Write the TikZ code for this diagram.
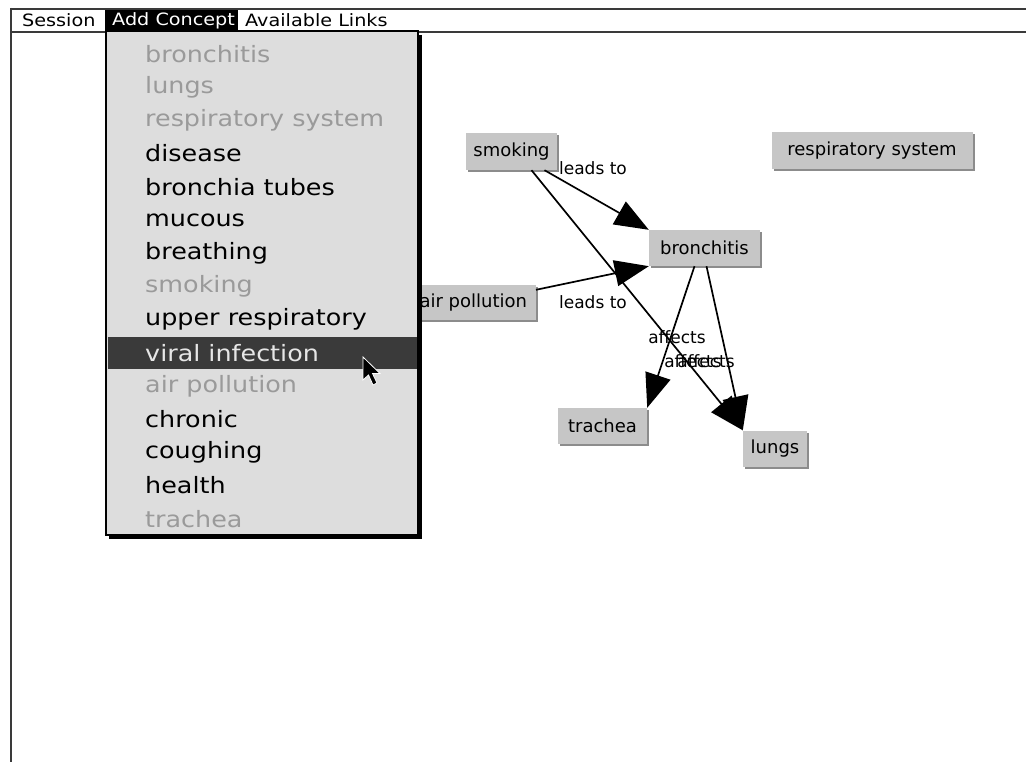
\documentclass[tikz,border=0pt]{standalone}
\usepackage{fontspec}
\usetikzlibrary{arrows.meta,shadows}
\newfontfamily\gen{DejaVu Sans}
\newfontfamily\genw[FakeStretch=1.13]{DejaVu Sans}
\definecolor{menubg}{HTML}{DDDDDD}
\definecolor{dimtext}{HTML}{9A9A9A}
\definecolor{hilite}{HTML}{3A3A3A}
\definecolor{hitext}{HTML}{E6E6E6}
\definecolor{nodebg}{HTML}{C6C6C6}
\definecolor{nodeshadow}{HTML}{8C8C8C}
\definecolor{framegray}{HTML}{3A3A3A}
\begin{document}
\begin{tikzpicture}[x=1pt,y=-1pt,
  concept/.style={fill=nodebg, inner sep=0pt, font=\gen\fontsize{18}{20}\selectfont,
    general shadow={fill=nodeshadow, shadow xshift=2pt, shadow yshift=-2pt}},
  linklabel/.style={font=\gen\fontsize{17}{19}\selectfont, inner sep=0pt},
  link/.style={draw, line width=1.7pt, -{Triangle[length=34pt,width=26pt]}},
  menuitem/.style={anchor=west, font=\genw\fontsize{22.5}{24}\selectfont, inner sep=0pt},
  dimitem/.style={menuitem, text=dimtext},
  baritem/.style={anchor=west, font=\genw\fontsize{17}{19}\selectfont, inner sep=0pt}]

\useasboundingbox (0,0) rectangle (1026,762);
\fill[white] (0,0) rectangle (1026,762);

% ---------- concept map ----------
\node[concept, minimum width=91pt, minimum height=37pt] (smoking) at (511.5,151.5) {smoking};
\node[concept, minimum width=111pt, minimum height=36pt] (bronchitis) at (704.5,248) {bronchitis};
\node[concept, minimum width=125pt, minimum height=35pt, anchor=east] (airpol) at (536,302.5) {air pollution};
\node[concept, minimum width=89pt, minimum height=36pt] (trachea) at (602.5,426) {trachea};
\node[concept, minimum width=64pt, minimum height=36pt] (lungs) at (775,448.5) {lungs};
\node[concept, minimum width=201pt, minimum height=37pt] (respsys) at (872,151) {respiratory system};

\path[link] ([xshift=33pt]smoking.south) -- (bronchitis.north west);
\path[link] ([xshift=20pt]smoking.south) -- (lungs.north west);
\path[link] ([yshift=-5pt]airpol.north east) -- (bronchitis.south west);
\path[link] ([xshift=-10pt]bronchitis.south) -- (trachea.north east);
\path[link] ([xshift=2pt]bronchitis.south) -- (lungs.north west);

\node[linklabel] (l1) at (593,168) {leads to};
\node[linklabel] (l2) at (593,302) {leads to};
\node[linklabel] (l3) at (677,337) {affects};
\node[linklabel] (l4) at (693,361) {affects};
\node[linklabel] (l5) at (706,361) {affects};

% ---------- window frame and menu bar ----------
\draw[framegray, line width=2pt] (10,9) -- (1026,9);
\draw[framegray, line width=2pt] (10,32) -- (1026,32);
\draw[framegray, line width=2.5pt] (11,8) -- (11,762);
\fill[black] (105,10) rectangle (238,31);
\node[baritem] (session) at (22,20.5) {Session};
\node[baritem, text=white] (addc) at (112,20.5) {Add Concept};
\node[baritem] (links) at (245,20.5) {Available Links};

% ---------- dropdown menu ----------
\fill[black] (109,35) rectangle (422,539);
\filldraw[fill=menubg, draw=black, line width=1.5pt] (106,31) rectangle (418,535);
\fill[hilite] (107.5,337) rectangle (416.5,369);

\node[dimitem] (m0) at (145,54) {bronchitis};
\node[dimitem] (m1) at (145,87.2) {lungs};
\node[dimitem] (m2) at (145,120.4) {respiratory system};
\node[menuitem] (m3) at (145,153.6) {disease};
\node[menuitem] (m4) at (145,186.8) {bronchia tubes};
\node[menuitem] (m5) at (145,220) {mucous};
\node[menuitem] (m6) at (145,253.2) {breathing};
\node[dimitem] (m7) at (145,286.4) {smoking};
\node[menuitem] (m8) at (145,319.6) {upper respiratory};
\node[menuitem, text=hitext] (m9) at (145,352.8) {viral infection};
\node[dimitem] (m10) at (145,386) {air pollution};
\node[menuitem] (m11) at (145,419.2) {chronic};
\node[menuitem] (m12) at (145,452.4) {coughing};
\node[menuitem] (m13) at (145,485.6) {health};
\node[dimitem] (m14) at (145,518.8) {trachea};

% ---------- mouse pointer ----------
\filldraw[fill=black, draw=white, line width=0.8pt, line join=miter]
  (363,357) -- (363,380) -- (368.5,375) -- (373,385) -- (377,383) -- (372.5,373.5) -- (380,373.5) -- cycle;
\end{tikzpicture}
\end{document}
